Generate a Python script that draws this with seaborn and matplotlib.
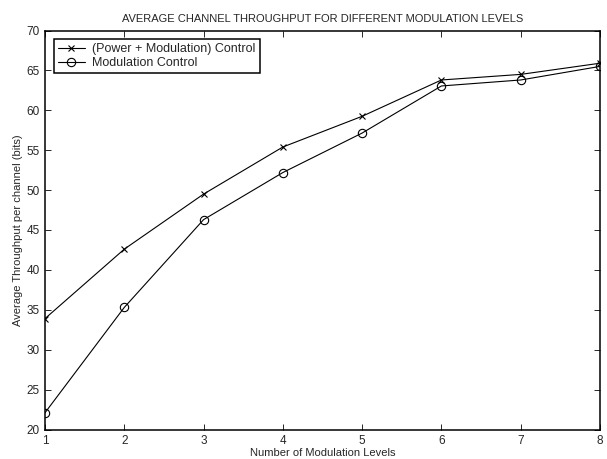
import matplotlib
matplotlib.use("Agg")
import matplotlib.pyplot as plt
import seaborn as sns

levels = [1, 2, 3, 4, 5, 6, 7, 8]
power_mod = [33.9, 42.6, 49.5, 55.4, 59.25, 63.8, 64.5, 65.9]
mod_only = [22.1, 35.3, 46.3, 52.2, 57.15, 63.05, 63.8, 65.5]
series_names = ["(Power + Modulation) Control", "Modulation Control"]

sns.set_style("ticks")
plt.rcParams['font.family'] = ['Liberation Sans', 'DejaVu Sans']

fig = plt.figure(figsize=(6.07, 4.59), dpi=100)
ax = fig.add_axes([45/607, 1 - 429.5/459, (600-45)/607, (429.5-30.5)/459])

sns.lineplot(x=levels, y=power_mod, color="black", marker="x", linewidth=0.8,
             markersize=5, markeredgecolor="black", markeredgewidth=0.8,
             label=series_names[0], ax=ax)
sns.lineplot(x=levels, y=mod_only, color="black", marker="o", linewidth=0.8,
             markersize=6, markerfacecolor="none", markeredgecolor="black",
             markeredgewidth=0.8, label=series_names[1], ax=ax)

ax.set_xlim(1, 8)
ax.set_ylim(20, 70)
ax.set_xticks(levels)
ax.set_yticks(range(20, 71, 5))
ax.tick_params(direction="in", top=True, right=True, labelsize=8.5, length=4, width=0.7, pad=4)
for sp in ax.spines.values():
    sp.set_linewidth(1.1)
    sp.set_color("black")
ax.set_xlabel("Number of Modulation Levels", fontsize=8, labelpad=1)
ax.set_ylabel("Average Throughput per channel (bits)", fontsize=8, labelpad=2)
ax.set_title("AVERAGE CHANNEL THROUGHPUT FOR DIFFERENT MODULATION LEVELS", fontsize=8, pad=6)

leg = ax.legend(loc="upper left", fontsize=9, frameon=True, fancybox=False,
                edgecolor="black", framealpha=1, borderpad=0.3, labelspacing=0.15,
                handlelength=2.2, handletextpad=0.6, borderaxespad=0.7)
leg.get_frame().set_linewidth(1.1)

fig.savefig("out.png", dpi=100)
